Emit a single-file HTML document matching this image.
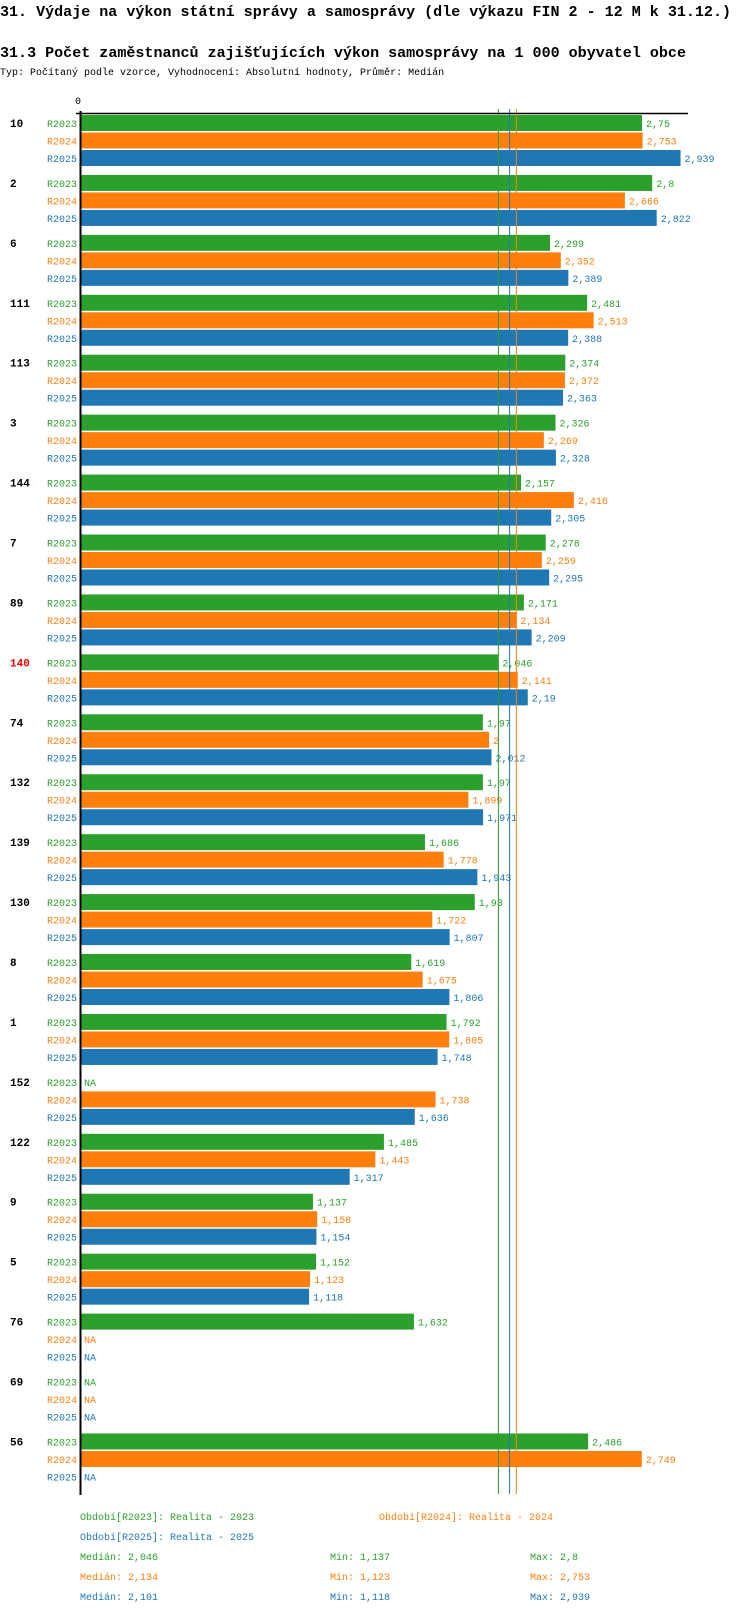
<!DOCTYPE html>
<html><head><meta charset="utf-8"><style>
body{margin:0;background:#fff;width:750px;height:1614px;overflow:hidden}
svg{display:block;font-family:"Liberation Mono","DejaVu Sans Mono",monospace}
</style></head><body>
<svg id="chart" width="750" height="1614" viewBox="0 0 750 1614" xmlns="http://www.w3.org/2000/svg">
<text x="0" y="16" font-size="15" font-weight="bold" textLength="731" lengthAdjust="spacingAndGlyphs">31. Výdaje na výkon státní správy a samosprávy (dle výkazu FIN 2 - 12 M k 31.12.)</text>
<text x="0" y="57" font-size="15" font-weight="bold" textLength="686" lengthAdjust="spacingAndGlyphs">31.3 Počet zaměstnanců zajišťujících výkon samosprávy na 1 000 obyvatel obce</text>
<text x="0" y="75" font-size="10">Typ: Počítaný podle vzorce, Vyhodnocení: Absolutní hodnoty, Průměr: Medián</text>
<g id="plot"></g>
</svg>
<script>
const categories=["10","2","6","111","113","3","144","7","89","140","74","132","139","130","8","1","152","122","9","5","76","69","56"];
const seriesNames=["R2023","R2024","R2025"];
const r2023=[2.75,2.8,2.299,2.481,2.374,2.326,2.157,2.278,2.171,2.046,1.97,1.97,1.686,1.93,1.619,1.792,null,1.485,1.137,1.152,1.632,null,2.486];
const r2024=[2.753,2.666,2.352,2.513,2.372,2.269,2.416,2.259,2.134,2.141,2,1.899,1.778,1.722,1.675,1.805,1.738,1.443,1.158,1.123,null,null,2.749];
const r2025=[2.939,2.822,2.389,2.388,2.363,2.328,2.305,2.295,2.209,2.19,2.012,1.971,1.943,1.807,1.806,1.748,1.636,1.317,1.154,1.118,null,null,null];
const medians=[2.046,2.134,2.101];
const mins=[1.137,1.123,1.118];
const maxs=[2.8,2.753,2.939];
const highlighted="140";

const colors=["#2ca02c","#ff7f0e","#1f77b4"];
const NS="http://www.w3.org/2000/svg";
const g=document.getElementById('plot');
const x0=81, scale=204;
const xs=v=>x0+v*scale;
const groupTop=i=>115+i*59.93;
const barY=(i,s)=>groupTop(i)+s*17.5;
const fmt=v=>String(v).replace('.',',');
function el(tag,attrs,txt){const e=document.createElementNS(NS,tag);for(const k in attrs)e.setAttribute(k,attrs[k]);if(txt!==undefined)e.textContent=txt;g.appendChild(e);return e;}
const series=[r2023,r2024,r2025];

categories.forEach((c,i)=>{
  const t=el('text',{x:10,y:groupTop(i)+12,'font-size':11,'font-weight':'bold',fill:c===highlighted?'#ff0000':'#000'},c);
  
  
  series.forEach((arr,s)=>{
    const y=barY(i,s);const v=arr[i];
    const l=el('text',{x:77,y:y+12,'font-size':10,'text-anchor':'end',fill:colors[s]},seriesNames[s]);
    
    
    if(v===null){
      const n=el('text',{x:84,y:y+12,'font-size':10,fill:colors[s]},'NA');
      
      
    }else{
      const r=el('rect',{x:x0,y:y,width:xs(v)-x0,height:16,fill:colors[s]});
      
      
      const vl=el('text',{x:xs(v)+4,y:y+12,'font-size':10,fill:colors[s]},fmt(v));
      
      
    }
  });
});
medians.forEach((m,s)=>{
  const ln=el('line',{x1:xs(m),x2:xs(m),y1:109,y2:1494,stroke:colors[s],'stroke-width':1});
  
  
});
const ax=el('line',{x1:76,x2:688,y1:113.5,y2:113.5,stroke:'#000','stroke-width':1.5});


const ay=el('line',{x1:80.5,x2:80.5,y1:111,y2:1495,stroke:'#000','stroke-width':2});


const tk=el('text',{x:78,y:104,'font-size':10,'text-anchor':'middle'},'0');



const legendPos=[[80,1520],[379,1520],[80,1540]];
const periodNames=["Realita - 2023","Realita - 2024","Realita - 2025"];
legendPos.forEach((p,s)=>{
  const t=el('text',{x:p[0],y:p[1],'font-size':10,fill:colors[s]},'Období['+seriesNames[s]+']: '+periodNames[s]);
  
  
});
[0,1,2].forEach(s=>{
  const y=1560+s*20;
  const a=el('text',{x:80,y:y,'font-size':10,fill:colors[s]},'Medián: '+fmt(medians[s]));
  
  
  const b=el('text',{x:330,y:y,'font-size':10,fill:colors[s]},'Min: '+fmt(mins[s]));
  
  
  const c=el('text',{x:530,y:y,'font-size':10,fill:colors[s]},'Max: '+fmt(maxs[s]));
  
  
});
</script>
</body></html>
